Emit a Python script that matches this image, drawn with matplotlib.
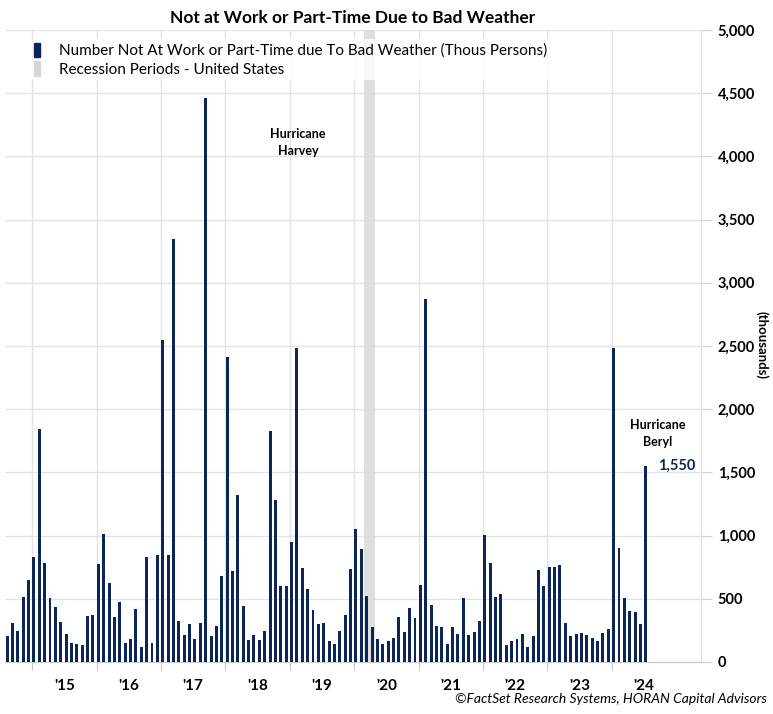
import matplotlib.pyplot as plt
from matplotlib.patches import Patch
import numpy as np
import pandas as pd

plt.rcParams['font.family'] = ['Lato', 'DejaVu Sans']

# monthly data, Aug 2014 - Jul 2024 (thousands)
start_month = '2014-08'
weather = [206, 306, 248, 517, 646, 831, 1840, 783, 506, 435, 316, 222, 153, 145, 134, 364, 374, 773, 1015, 625,
           359, 472, 150, 182, 422, 121, 831, 150, 849, 2550, 849, 3350, 322,
           216, 298, 182, 311, 4460, 206, 287, 680, 2410, 717, 1321, 440, 177, 216, 171, 243, 1830, 1279, 599, 599,
           947, 2480, 746, 580, 409, 298, 306, 169, 145, 243, 369,
           733, 1052, 894, 522, 274, 182, 140, 163, 187, 356, 240, 427, 351, 607, 2870, 451, 285, 274, 140, 274,
           222, 509, 216, 240, 322, 1002, 783, 514, 541, 134, 163, 182,
           222, 121, 203, 728, 599, 752, 752, 770, 311, 208, 222, 229, 216, 185, 163, 229, 258, 2480, 902, 506,
           401, 393, 298, 1550]
recession = ('2020-02', '2020-04')
year_labels = ["'15", "'16", "'17", "'18", "'19", "'20", "'21", "'22", "'23", "'24"]

navy = '#0c2659'
grid_c = '#e3e3e3'

months = pd.date_range(start_month, periods=len(weather), freq='MS')
x = np.arange(len(weather))

fig = plt.figure(figsize=(7.73, 7.14), dpi=100)
ax = fig.add_axes([0.006, 0.073, 0.901, 0.885])

# recession band
r0 = list(months).index(pd.Timestamp(recession[0]))
r1 = list(months).index(pd.Timestamp(recession[1]))
ax.axvspan(r0 + 0.45, r1 + 0.5, color='#dcdcdc', alpha=0.9, zorder=1, lw=0)

ax.bar(x, weather, width=0.55, color=navy, zorder=3)

# year boundaries
jan_idx = [i for i, m in enumerate(months) if m.month == 1]
bounds = [i - 0.33 for i in jan_idx]
for b in bounds:
    ax.axvline(b, color=grid_c, lw=1, zorder=0)
ax.set_xticks(bounds)
ax.set_xticklabels([])
ax.set_xticks([b + 6 for b in bounds], minor=True)
ax.set_xticklabels(year_labels, minor=True, fontsize=11, fontweight='bold')
ax.tick_params(axis='x', which='major', length=6, color='#c8c8c8')
ax.tick_params(axis='x', which='minor', length=0, pad=12)

ax.set_xlim(-0.45, 129.3)
ax.set_ylim(0, 5000)
ax.yaxis.tick_right()
ax.set_yticks(np.arange(0, 5001, 500))
ax.set_yticklabels([f'{v:,}' for v in range(0, 5001, 500)], fontsize=10.5, fontweight='bold')
ax.tick_params(axis='y', length=8, color='#d0d0d0', pad=4)
ax.grid(axis='y', color=grid_c, lw=1, zorder=0)
ax.set_axisbelow(True)
for s in ['top', 'left']:
    ax.spines[s].set_visible(False)
ax.spines['right'].set_color('#e0e0e0')
ax.spines['bottom'].set_color('#c8c8c8')

fig.text(0.985, 0.517, '(thousands)', rotation=270, ha='center', va='center', fontsize=9.5,
         fontweight='bold')

ax.set_title('Not at Work or Part-Time Due to Bad Weather', fontsize=12.5, fontweight='bold', pad=5)

ax.text(54.2, 4110, 'Hurricane\nHarvey', ha='center', va='center', fontsize=9, fontweight='bold',
        linespacing=1.5)
ax.text(121.2, 1810, 'Hurricane\nBeryl', ha='center', va='center', fontsize=9, fontweight='bold',
        linespacing=1.5, zorder=5)
ax.text(x[-1] + 2.2, weather[-1], f'{weather[-1]:,}', ha='left', va='center', fontsize=10.5,
        fontweight='bold', color=navy)

handles = [Patch(color=navy), Patch(color='#d6d6d6')]
leg = ax.legend(handles, ['Number Not At Work or Part-Time due To Bad Weather (Thous Persons)',
                          'Recession Periods - United States'],
                loc='upper left', bbox_to_anchor=(0.038, 0.985), frameon=True, fontsize=11,
                handlelength=0.4, handleheight=1.1, handletextpad=1.2, labelspacing=0.2,
                borderpad=0.2, borderaxespad=0)
leg.get_frame().set_edgecolor('none')
leg.get_frame().set_alpha(0.85)

fig.text(0.992, 0.012, '©FactSet Research Systems, HORAN Capital Advisors', ha='right', va='bottom',
         fontsize=10, style='italic')

plt.savefig('out.png', dpi=100)
